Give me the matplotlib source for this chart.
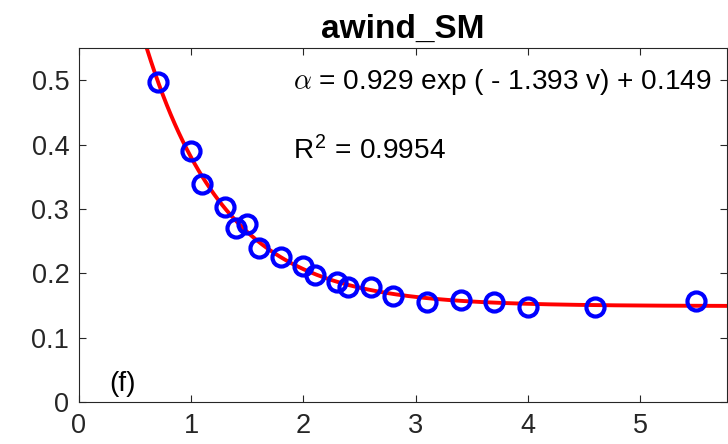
import numpy as np
import matplotlib
matplotlib.use("Agg")
import matplotlib.pyplot as plt

plt.rcParams['font.family'] = ['Liberation Sans', 'DejaVu Sans']
plt.rcParams['mathtext.fontset'] = 'cm'

# measured points (wind speed v, albedo alpha)
v = [0.7, 1.0, 1.1, 1.3, 1.4, 1.5, 1.6, 1.8, 2.0, 2.1, 2.3, 2.4, 2.6, 2.8,
     3.1, 3.4, 3.7, 4.0, 4.6, 5.5]
alpha = [0.497, 0.390, 0.338, 0.303, 0.271, 0.277, 0.239, 0.226, 0.211, 0.198,
         0.187, 0.179, 0.179, 0.165, 0.155, 0.158, 0.155, 0.147, 0.147, 0.157]

# fit parameters
a_fit = 0.929
b_fit = 1.393
c_fit = 0.149
r2 = 0.9954

xticks = [0, 1, 2, 3, 4, 5]
yticks = [0, 0.1, 0.2, 0.3, 0.4, 0.5]

axcol = '#262626'

fig = plt.figure(figsize=(7.28, 4.44), dpi=100)
ax = fig.add_axes([0.1085, 0.0946, 0.8897, 0.7974])

vv = np.linspace(0.5, 5.77, 300)
ax.plot(vv, a_fit * np.exp(-b_fit * vv) + c_fit, color='red', lw=2.8, zorder=2)
ax.plot(v, alpha, 'o', mfc='none', mec='blue', mew=3.0, ms=13, zorder=3)

ax.set_xlim(0, 5.77)
ax.set_ylim(0, 0.55)
ax.set_xticks(xticks)
ax.set_yticks(yticks)
ax.set_xticklabels([str(t) for t in xticks])
ax.set_yticklabels(['0' if t == 0 else f'{t:.1f}' for t in yticks])
ax.tick_params(direction='in', top=True, right=True, length=5, width=0.8,
               colors=axcol, labelsize=19.5)
ax.tick_params(axis='x', pad=8)
ax.tick_params(axis='y', pad=7)
for s in ax.spines.values():
    s.set_color(axcol)
    s.set_linewidth(0.8)

ax.set_title('awind_SM', fontsize=24, fontweight='bold', pad=7)

ax.text(1.91, 0.497, r'$\alpha$' + f' = {a_fit} exp ( - {b_fit} v) + {c_fit}',
        fontsize=20.2, va='center', ha='left', color='black')
ax.text(1.91, 0.39, r'R$^{\mathregular{2}}$' + f' = {r2}',
        fontsize=20.2, va='center', ha='left', color='black')
ax.text(0.27, 0.028, '(f)', fontsize=20, va='center', ha='left', color='black')

fig.savefig('out.png', dpi=100)
